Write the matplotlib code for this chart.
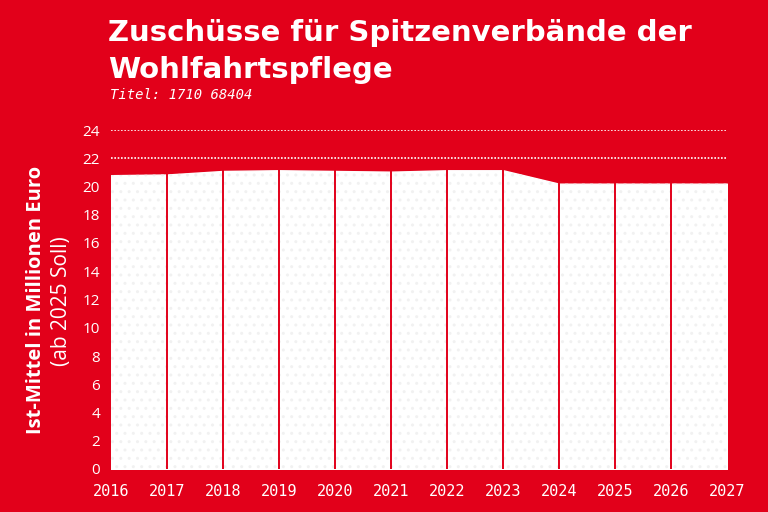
import matplotlib
matplotlib.use('Agg')
import matplotlib.pyplot as plt
import numpy as np

# Daten
jahre = [2016, 2017, 2018, 2019, 2020, 2021, 2022, 2023, 2024, 2025, 2026, 2027]
werte = [20.8, 20.85, 21.1, 21.15, 21.1, 21.05, 21.15, 21.15, 20.2, 20.2, 20.2, 20.2]
y_ticks = [0, 2, 4, 6, 8, 10, 12, 14, 16, 18, 20, 22, 24]

ROT = '#E2001A'

fig = plt.figure(figsize=(7.68, 5.12), dpi=100, facecolor=ROT)
ax = fig.add_axes([111/768, 1 - 469/512, (727-111)/768, (469-130)/512])
ax.set_facecolor(ROT)

# Gitterlinien (gepunktet)
for t in [22, 24]:
    ax.axhline(t, color='white', linestyle=(0, (1, 1)), linewidth=1.2, zorder=1)

# Flaeche
ax.fill_between(jahre, werte, 0, color='white', edgecolor='white', linewidth=1, zorder=2)
ax.fill_between(jahre, werte, 0, facecolor='none', edgecolor='#f1f1f1', hatch='..', linewidth=0, zorder=2)

# senkrechte Linien je Jahr
for j, w in zip(jahre[1:-1], werte[1:-1]):
    ax.plot([j, j], [0, w], color=ROT, linewidth=1.4, zorder=3)

ax.set_xlim(jahre[0], jahre[-1])
ax.set_ylim(0, 24)
ax.set_xticks(jahre)
ax.set_xticklabels([str(j) for j in jahre], family='DejaVu Sans Mono', fontsize=11, color='white')
ax.set_yticks(y_ticks)
ax.set_yticklabels([str(t) for t in y_ticks], family='Open Sans', fontsize=11, color='white')
ax.tick_params(length=0, pad=8)
ax.tick_params(axis='x', pad=11)
for s in ax.spines.values():
    s.set_visible(False)

# Titel
fig.text(108/768, 1 - 41/512, 'Zuschüsse für Spitzenverbände der', family='DejaVu Sans', fontweight='bold',
         fontsize=21, color='white', ha='left', va='baseline')
fig.text(108/768, 1 - 78/512, 'Wohlfahrtspflege', family='DejaVu Sans', fontweight='bold',
         fontsize=21, color='white', ha='left', va='baseline')
fig.text(110/768, 1 - 99/512, 'Titel: 1710 68404', family='DejaVu Sans Mono', style='italic',
         fontsize=10, color='white', ha='left', va='baseline')

# Achsenbeschriftung
fig.text(36/768, 1 - 300/512, 'Ist-Mittel in Millionen Euro', rotation=90, family='Open Sans',
         fontweight='bold', fontsize=14.5, color='white', ha='center', va='center')
fig.text(62/768, 1 - 301/512, '(ab 2025 Soll)', rotation=90, family='Open Sans',
         fontsize=15, color='white', ha='center', va='center')

fig.savefig('out.png', dpi=100, facecolor=ROT)
